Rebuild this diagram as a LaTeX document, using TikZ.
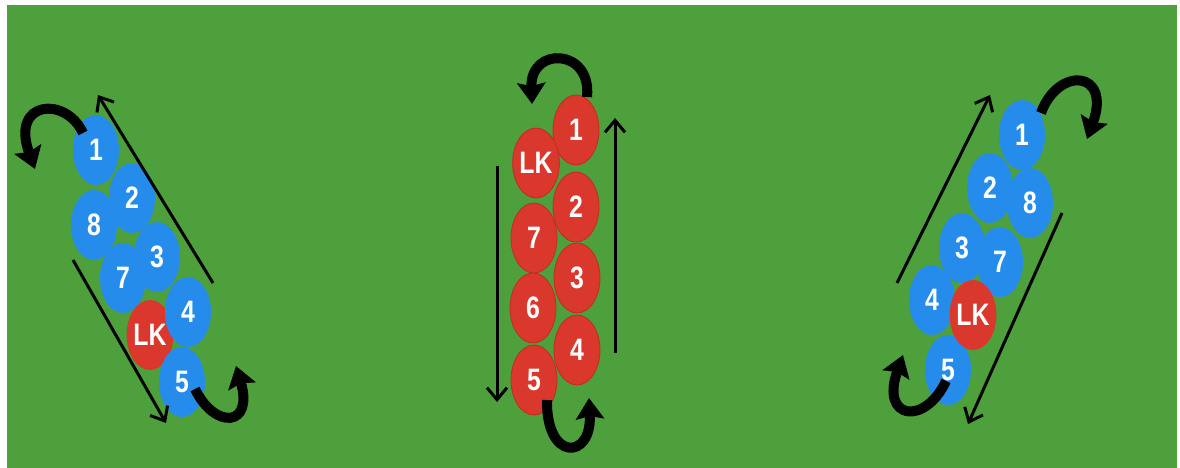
\documentclass[tikz,border=0pt]{standalone}
\usepackage{fontspec}
\setmainfont{Liberation Sans}
\newfontfamily\playerfont[FakeStretch=0.8]{Liberation Sans}
\usetikzlibrary{shapes.geometric,arrows.meta}
\definecolor{field}{RGB}{78,160,60}
\definecolor{pblue}{RGB}{38,140,236}
\definecolor{pred}{RGB}{218,56,44}
\definecolor{predline}{RGB}{190,45,35}
\tikzset{
  player/.style={ellipse, minimum width=46pt, minimum height=70pt, inner sep=0pt,
     text=white, font=\playerfont\fontsize{31}{31}\selectfont\bfseries},
  bluep/.style={player, fill=pblue},
  redp/.style={player, fill=pred, draw=predline, line width=0.8pt},
  runline/.style={line width=3pt, -{Straight Barb[length=12pt,width=20pt]}},
  turn/.style={line width=10pt, -{Stealth[length=21pt,width=28pt,inset=3pt]}}
}
\begin{document}
\begin{tikzpicture}[x=1pt,y=-1pt]
\fill[white] (0,0) rectangle (1180,468);
\fill[field] (7,5) rectangle (1177,468);
% ---------- left group ----------
\node[bluep] (L1) at (96,150) {1};
\node[bluep] (L8) at (94,225) {8};
\node[bluep] (L2) at (132,198) {2};
\node[bluep] (L7) at (123,278) {7};
\node[bluep] (L3) at (157,257) {3};
\node[redp, draw=none] (LLK) at (150,335) {LK};
\node[bluep] (L4) at (188,312) {4};
\node[bluep] (L5) at (182,382) {5};
\coordinate (la1) at (213,283); \coordinate (la2) at (98,95);
\coordinate (lb1) at (73,260);  \coordinate (lb2) at (166,423);
\draw[runline] (la1) -- (la2);
\draw[runline] (lb1) -- (lb2);
\coordinate (lt1) at (83,133); \coordinate (lt2) at (35,169);
\draw[turn] (lt1) .. controls (66,96) and (10,100) .. (lt2);
\coordinate (lr1) at (195,389); \coordinate (lr2) at (236,366);
\draw[turn] (lr1) .. controls (215,430) and (254,427) .. (lr2);
% ---------- middle group ----------
\node[redp] (M1) at (576,130) {1};
\node[redp] (MLK) at (536,163) {LK};
\node[redp] (M2) at (576,207) {2};
\node[redp] (M7) at (534,238) {7};
\node[redp] (M3) at (577,278) {3};
\node[redp] (M6) at (533,308) {6};
\node[redp] (M4) at (577,350) {4};
\node[redp] (M5) at (534,380) {5};
\coordinate (ma1) at (615,353); \coordinate (ma2) at (615,118);
\coordinate (mb1) at (497,166); \coordinate (mb2) at (497,402);
\draw[runline] (ma1) -- (ma2);
\draw[runline] (mb1) -- (mb2);
\coordinate (mt1) at (587,97); \coordinate (mt2) at (532,104);
\draw[turn] (mt1) .. controls (592,48) and (530,46) .. (mt2);
\coordinate (mu1) at (547,400); \coordinate (mu2) at (589,398);
\draw[turn] (mu1) .. controls (546,462) and (592,460) .. (mu2);
% ---------- right group ----------
\node[bluep] (R1) at (1022,135) {1};
\node[bluep] (R2) at (990,188) {2};
\node[bluep] (R8) at (1030,203) {8};
\node[bluep] (R3) at (962,248) {3};
\node[bluep] (R7) at (1000,262) {7};
\node[bluep] (R5) at (948,370) {5};
\node[bluep] (R4) at (932,300) {4};
\node[redp, draw=none] (RLK) at (973,315) {LK};
\coordinate (ra1) at (897,283); \coordinate (ra2) at (990,95);
\coordinate (rb1) at (1062,213); \coordinate (rb2) at (968,424);
\draw[runline] (ra1) -- (ra2);
\draw[runline] (rb1) -- (rb2);
\coordinate (rt1) at (1041,113); \coordinate (rt2) at (1087,139);
\draw[turn] (rt1) .. controls (1058,66) and (1112,70) .. (rt2);
\coordinate (ru1) at (946,381); \coordinate (ru2) at (903,355);
\draw[turn] (ru1) .. controls (925,426) and (880,420) .. (ru2);
\end{tikzpicture}
\end{document}
